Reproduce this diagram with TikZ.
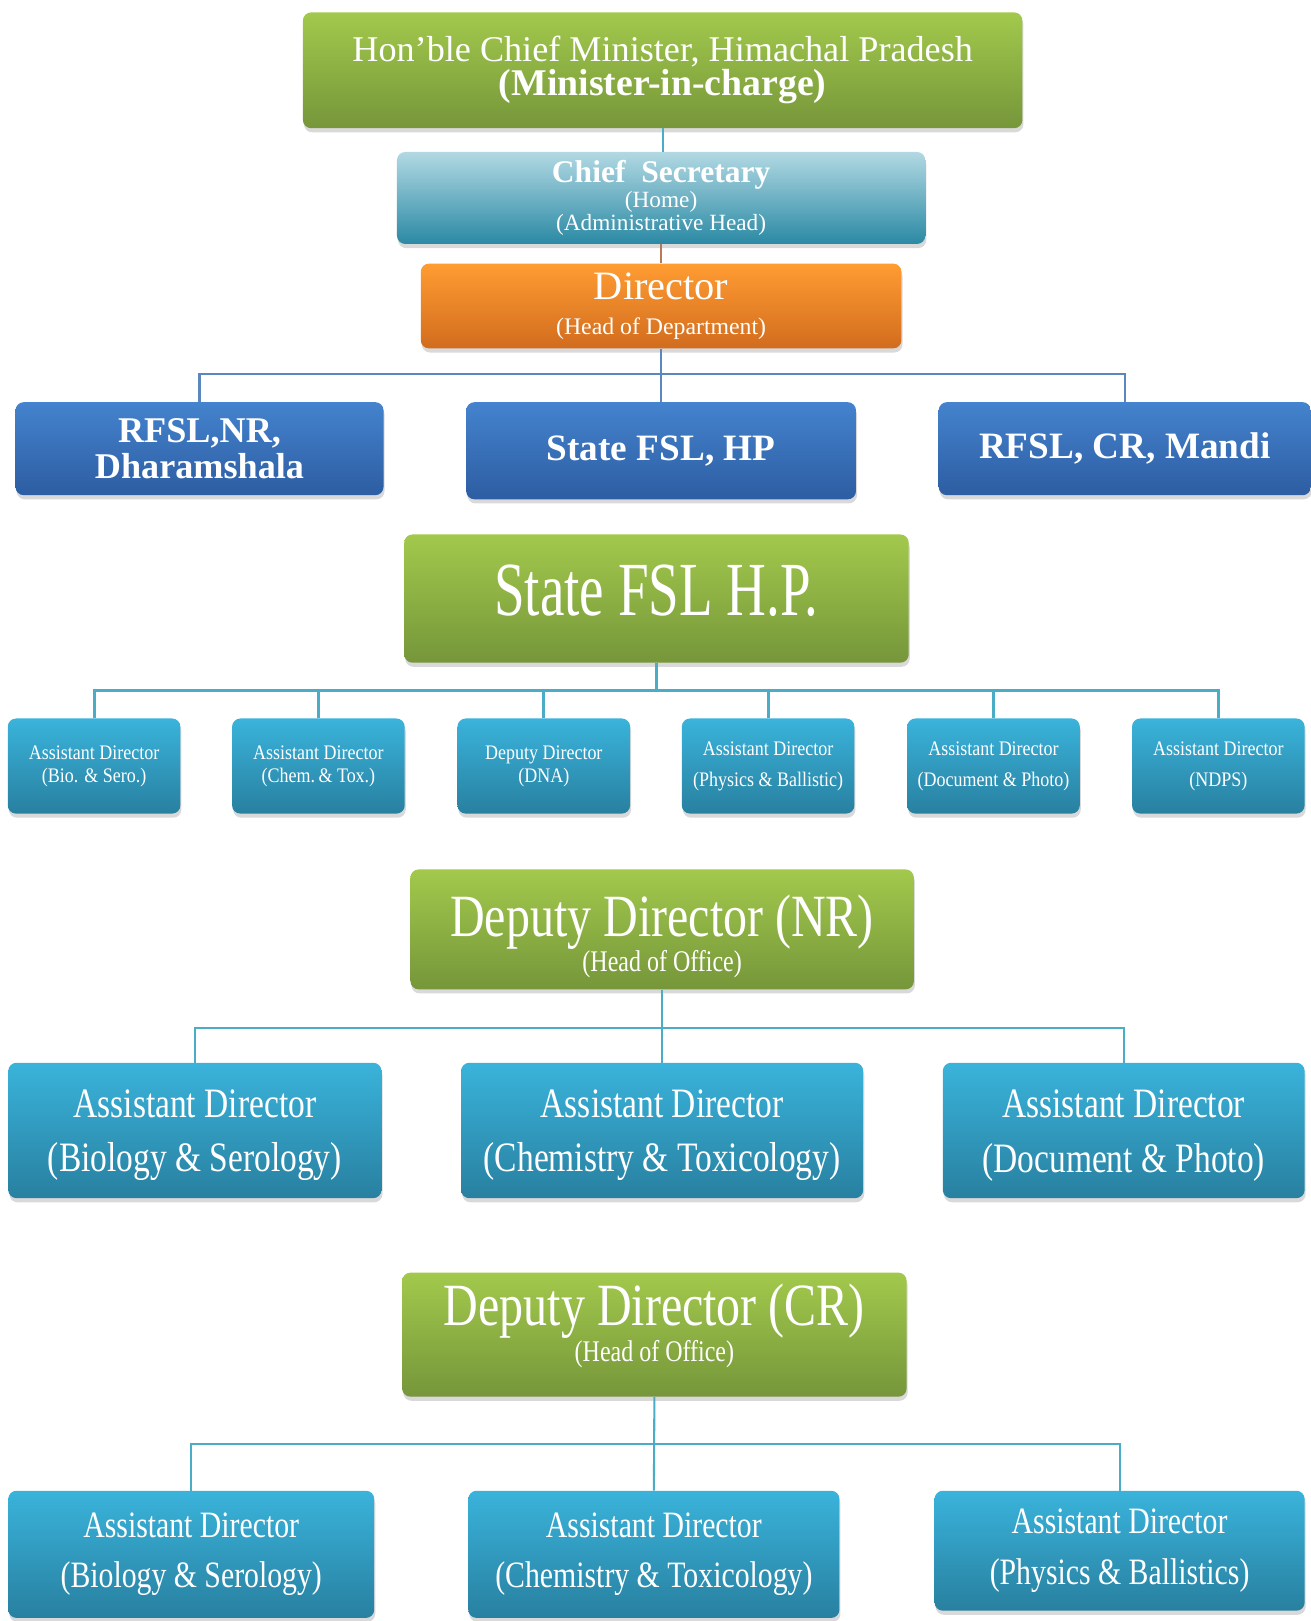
\documentclass[tikz,border=0pt]{standalone}
\usepackage{fontspec}
\setmainfont{Liberation Serif}
\newfontfamily\condA[FakeStretch=0.72]{Liberation Serif}
\newfontfamily\condB[FakeStretch=0.80]{Liberation Serif}
\newfontfamily\condC[FakeStretch=0.87]{Liberation Serif}
\usetikzlibrary{shadows}
\newcommand\myfs[2]{\fontsize{#1}{#2}\selectfont}
\newcommand\pushup[1]{\rule[-#1]{0pt}{1pt}}
\newcommand\pushdn[1]{\rule{0pt}{#1}}

\definecolor{gtop}{HTML}{A2C94C}
\definecolor{gbot}{HTML}{76963A}
\definecolor{cstop}{HTML}{B2D9E3}
\definecolor{csbot}{HTML}{2A89A4}
\definecolor{otop}{HTML}{FF9C32}
\definecolor{obot}{HTML}{D26C1E}
\definecolor{btop}{HTML}{4483CE}
\definecolor{bbot}{HTML}{2D5DA2}
\definecolor{ctop}{HTML}{3AB3DB}
\definecolor{cbot}{HTML}{2880A0}
\definecolor{wcyan}{HTML}{4BACC6}
\definecolor{wbrown}{HTML}{B8785A}
\definecolor{wblue}{HTML}{5A88BC}

\tikzset{
  orgbox/.style={rounded corners=8pt, inner sep=0pt, align=center, text=white,
    drop shadow={shadow xshift=1pt, shadow yshift=-4pt, opacity=0.3}},
  gbox/.style={orgbox, top color=gtop, bottom color=gbot},
  csbox/.style={orgbox, top color=cstop, bottom color=csbot},
  obox/.style={orgbox, top color=otop, bottom color=obot},
  bbox/.style={orgbox, top color=btop, bottom color=bbot},
  cbox/.style={orgbox, top color=ctop, bottom color=cbot},
  wirecyan/.style={draw=wcyan, line width=2pt},
  wirethick/.style={draw=wcyan, line width=3pt},
  wirebrown/.style={draw=wbrown, line width=1.5pt},
  wireblue/.style={draw=wblue, line width=2pt},
}

\begin{document}
\begin{tikzpicture}[x=1pt,y=-1pt]
\useasboundingbox (0,0) rectangle (1268,1568);

% level 1
\node[gbox, minimum width=696pt, minimum height=112pt, font=\myfs{35}{33}] (cm) at (641,68)
  {\myfs{35}{33}Hon’ble Chief Minister, Himachal Pradesh\\ \myfs{36.5}{33}\bfseries (Minister-in-charge)};
\node[csbox, minimum width=511pt, minimum height=89pt, font=\myfs{22.5}{22}] (cs) at (639.5,191.5)
  {\myfs{30.5}{24}\bfseries Chief\ \ Secretary\\[1pt] (Home)\\ (Administrative Head)};
\node[obox, minimum width=465pt, minimum height=82pt, font=\myfs{23}{34}] (dir) at (639.5,296)
  {\myfs{39}{34}Director\\ (Head of Department)};

% level 2
\node[bbox, minimum width=356pt, minimum height=90pt, font=\myfs{35}{34}\bfseries] (nr) at (193,434)
  {RFSL,NR,\\ Dharamshala};
\node[bbox, minimum width=377pt, minimum height=94pt, font=\myfs{36}{32}\bfseries] (hp) at (639.5,436)
  {State FSL, HP};
\node[bbox, minimum width=360pt, minimum height=90pt, font=\myfs{36}{32}\bfseries] (cr) at (1088,434)
  {RFSL, CR, Mandi};

% State FSL H.P.
\node[gbox, minimum width=488pt, minimum height=124pt, font=\condA\myfs{74}{74}] (sh) at (635,579)
  {State FSL H.P.\pushup{16pt}};

\node[cbox, minimum width=167pt, minimum height=92pt, font=\condC\myfs{20}{22}] (a1) at (91,741)
  {Assistant Director\\ (Bio. \& Sero.)};
\node[cbox, minimum width=167pt, minimum height=92pt, font=\condC\myfs{20}{22}] (a2) at (308,741)
  {Assistant Director\\ (Chem.\,\& Tox.)};
\node[cbox, minimum width=167pt, minimum height=92pt, font=\condC\myfs{20}{22}] (a3) at (526,741)
  {Deputy Director\\ (DNA)};
\node[cbox, minimum width=167pt, minimum height=92pt, font=\condC\myfs{20}{30}] (a4) at (743,741)
  {Assistant Director\\ (Physics \& Ballistic)};
\node[cbox, minimum width=167pt, minimum height=92pt, font=\condC\myfs{20}{30}] (a5) at (961,741)
  {Assistant Director\\ (Document \& Photo)};
\node[cbox, minimum width=167pt, minimum height=92pt, font=\condC\myfs{20}{30}] (a6) at (1178.5,741)
  {Assistant Director\\ (NDPS)};

% Deputy Director NR
\node[gbox, minimum width=487pt, minimum height=116pt, font=\condB\myfs{29}{34}] (dnr) at (640.5,899)
  {\pushdn{54pt}\myfs{58}{50}Deputy Director (NR)\\ (Head of Office)};
\node[cbox, minimum width=361pt, minimum height=131pt, font=\condB\myfs{40.5}{53}] (n1) at (188.5,1093.5)
  {\pushdn{36pt}Assistant Director\\ (Biology \& Serology)};
\node[cbox, minimum width=389pt, minimum height=131pt, font=\condB\myfs{40.5}{53}] (n2) at (640.5,1093.5)
  {\pushdn{36pt}Assistant Director\\ (Chemistry \& Toxicology)};
\node[cbox, minimum width=350pt, minimum height=131pt, font=\condB\myfs{40.5}{53}] (n3) at (1087,1093.5)
  {\pushdn{36pt}Assistant Director\\ (Document \& Photo)};

% Deputy Director CR
\node[gbox, minimum width=488pt, minimum height=120pt, font=\condB\myfs{29}{34}] (dcr) at (633,1291)
  {\myfs{58}{50}Deputy Director (CR)\\ (Head of Office)\pushup{23pt}};
\node[cbox, minimum width=354pt, minimum height=123pt, font=\condB\myfs{36}{49}] (c1) at (185,1503.5)
  {Assistant Director\\ (Biology \& Serology)};
\node[cbox, minimum width=359pt, minimum height=123pt, font=\condB\myfs{36}{49}] (c2) at (632.5,1503.5)
  {Assistant Director\\ (Chemistry \& Toxicology)};
\node[cbox, minimum width=358pt, minimum height=116pt, font=\condB\myfs{36}{49}] (c3) at (1083,1500)
  {Assistant Director\\ (Physics \& Ballistics)};

% bus coordinates
\coordinate (bus1) at (0,362);
\coordinate (bus2) at (0,668);
\coordinate (bus3) at (0,994);
\coordinate (bus4) at (0,1397);

% connectors
\draw[wirecyan] (cm.south) -- (cm.south |- cs.north);
\draw[wirebrown] (cs.south) -- (dir.north);
\draw[wireblue] (dir.south) -- (hp.north);
\draw[wireblue] (nr.north) -- (nr.north |- bus1) -- (cr.north |- bus1) -- (cr.north);

\draw[wirethick] (sh.south) -- (sh.south |- bus2);
\draw[wirethick] (a1.north) -- (a1.north |- bus2) -- (a6.north |- bus2) -- (a6.north);
\foreach \n in {a2,a3,a4,a5} \draw[wirethick] (\n.north) -- (\n.north |- bus2);

\draw[wirecyan] (dnr.south) -- (n2.north);
\draw[wirecyan] (n1.north) -- (n1.north |- bus3) -- (n3.north |- bus3) -- (n3.north);

\draw[wirecyan] (dcr.south) -- (c2.north);
\draw[wirecyan] (c1.north) -- (c1.north |- bus4) -- (c3.north |- bus4) -- (c3.north);
\end{tikzpicture}
\end{document}
